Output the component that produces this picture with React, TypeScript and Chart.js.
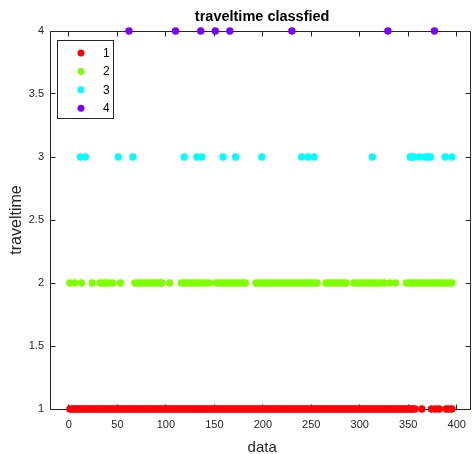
import React, { useEffect, useRef } from "react";
import { Chart, registerables } from "chart.js";

Chart.register(...registerables);

const titleText = "traveltime classfied";
const xLabel = "data";
const yLabel = "traveltime";
const seriesNames = ["1", "2", "3", "4"];
const seriesColors = ["#FF0000", "#80FF00", "#00FFFF", "#8000FF"];
const xTicks = [0, 50, 100, 150, 200, 250, 300, 350, 400];
const yTicks = [1, 1.5, 2, 2.5, 3, 3.5, 4];

// x positions (data index) of the points in each class
const class1 = [
  1, 3, 5, 7, 9, 11, 13, 15, 17, 19, 21, 23, 25, 27, 29, 31, 33, 35, 37, 39,
  41, 43, 45, 47, 49, 51, 53, 55, 57, 59, 61, 63, 65, 67, 69, 71, 73, 75, 77, 79,
  81, 83, 85, 87, 89, 91, 93, 95, 97, 99, 101, 103, 105, 107, 109, 111, 113, 115, 117, 119,
  121, 123, 125, 127, 129, 131, 133, 135, 137, 139, 141, 143, 145, 147, 149, 151, 153, 155, 157, 159,
  161, 163, 165, 167, 169, 171, 173, 175, 177, 179, 181, 183, 185, 187, 189, 191, 193, 195, 197, 199,
  201, 203, 205, 207, 209, 211, 213, 215, 217, 219, 221, 223, 225, 227, 229, 231, 233, 235, 237, 239,
  241, 243, 245, 247, 249, 251, 253, 255, 257, 259, 261, 263, 265, 267, 269, 271, 273, 275, 277, 279,
  281, 283, 285, 287, 289, 291, 293, 295, 297, 299, 301, 303, 305, 307, 309, 311, 313, 315, 317, 319,
  321, 323, 325, 327, 329, 331, 333, 335, 337, 339, 341, 343, 345, 347, 349, 351, 353, 355, 357,
  364, 374, 378, 382, 389, 392, 395,
];
const class2 = [
  1, 6, 13, 24, 32, 35, 38, 41, 45, 53,
  68, 71, 74, 77, 80, 83, 86, 89, 92, 95, 96, 104,
  116, 119, 122, 125, 128, 131, 134, 137, 141, 145,
  152, 155, 158, 161, 164, 167, 170, 173, 176, 179, 182,
  193, 196, 199, 202, 205, 208, 211, 214, 217, 220, 223, 226, 229, 232, 235, 238, 241, 244, 247, 250, 253, 256,
  265, 268, 271, 274, 277, 280, 283, 286,
  294, 297, 300, 303, 306, 309, 312, 315, 318, 321, 325, 331, 337,
  348, 351, 354, 357, 360, 363, 366, 369, 372, 375, 378, 381, 384, 387, 390, 393, 395,
];
const class3 = [
  12, 17, 51, 66, 119, 132, 137, 159, 172, 199, 240, 247, 253, 313,
  352, 354, 356, 362, 368, 370, 373, 388, 395,
];
const class4 = [62, 110, 136, 151, 166, 230, 329, 377];

const classX = [class1, class2, class3, class4];
const classY = [1, 2, 3, 4];

const FONT = "'Liberation Sans', Arial, Helvetica, sans-serif";
const AXIS = "#262626";

const decor = {
  id: "decor",
  beforeDatasetsDraw(chart: any) {
    const { ctx, chartArea, scales } = chart;
    const { left, right, top, bottom } = chartArea;
    const L = Math.floor(left) + 0.5;
    const R = Math.floor(right) + 0.5;
    const T = Math.floor(top) + 0.5;
    const B = Math.floor(bottom) + 0.5;
    ctx.save();
    ctx.strokeStyle = AXIS;
    ctx.lineWidth = 1;
    ctx.beginPath();
    ctx.rect(L, T, R - L, B - T);
    const tl = 5;
    xTicks.forEach((v) => {
      const px = Math.floor(scales.x.getPixelForValue(v)) + 0.5;
      ctx.moveTo(px, B);
      ctx.lineTo(px, B - tl);
      ctx.moveTo(px, T);
      ctx.lineTo(px, T + tl);
    });
    yTicks.forEach((v) => {
      const py = Math.floor(scales.y.getPixelForValue(v)) + 0.5;
      ctx.moveTo(L, py);
      ctx.lineTo(L + tl, py);
      ctx.moveTo(R, py);
      ctx.lineTo(R - tl, py);
    });
    ctx.stroke();
    ctx.restore();
  },
  afterDraw(chart: any) {
    const { ctx, chartArea } = chart;
    const { left, right, top, bottom } = chartArea;
    const cx = (left + right) / 2;
    ctx.save();
    ctx.fillStyle = "#000";
    ctx.textAlign = "center";
    ctx.textBaseline = "alphabetic";
    ctx.font = `bold 14.5px ${FONT}`;
    ctx.fillText(titleText, cx + 2, 21);
    ctx.fillStyle = AXIS;
    ctx.font = `15px ${FONT}`;
    ctx.fillText(xLabel, cx + 2, 452);
    ctx.save();
    ctx.font = `16px ${FONT}`;
    ctx.translate(21, (top + bottom) / 2);
    ctx.rotate(-Math.PI / 2);
    ctx.fillText(yLabel, 0, 0);
    ctx.restore();

    // legend
    const bx = 57.5, by = 40.5, bw = 56, bh = 78;
    ctx.fillStyle = "#fff";
    ctx.fillRect(bx, by, bw, bh);
    ctx.strokeStyle = AXIS;
    ctx.lineWidth = 1;
    ctx.strokeRect(bx, by, bw, bh);
    ctx.font = `12px ${FONT}`;
    ctx.textAlign = "left";
    ctx.textBaseline = "middle";
    seriesNames.forEach((name, i) => {
      const yy = 53 + i * 18.4;
      ctx.fillStyle = seriesColors[i];
      ctx.beginPath();
      ctx.arc(81, yy, 3.5, 0, Math.PI * 2);
      ctx.fill();
      ctx.fillStyle = "#000";
      ctx.fillText(name, 103, yy + 0.5);
    });
    ctx.restore();
  },
};

export default function App() {
  const ref = useRef<HTMLCanvasElement | null>(null);
  useEffect(() => {
    if (!ref.current) return;
    const datasets = classX.map((xs, i) => ({
      label: seriesNames[i],
      data: xs.map((x) => ({ x, y: classY[i] })),
      backgroundColor: seriesColors[i],
      borderColor: seriesColors[i],
      borderWidth: 0,
      pointRadius: 3.7,
      pointHoverRadius: 3.7,
      clip: false as any,
    }));
    const chart = new Chart(ref.current, {
      type: "scatter",
      data: { datasets },
      options: {
        animation: false,
        responsive: false,
        devicePixelRatio: 1,
        events: [],
        layout: { padding: { top: 31, right: 1, left: 0, bottom: 0 } },
        plugins: {
          legend: { display: false },
          title: { display: false },
          tooltip: { enabled: false },
        },
        scales: {
          x: {
            type: "linear",
            min: -19.5,
            max: 414,
            afterBuildTicks: (s: any) => {
              s.ticks = xTicks.map((v) => ({ value: v }));
            },
            afterFit: (s: any) => {
              s.height = 45;
              s.paddingLeft = 0;
              s.paddingRight = 0;
            },
            grid: { display: false, drawTicks: false },
            border: { display: false },
            ticks: {
              autoSkip: false,
              maxRotation: 0,
              padding: 9,
              color: AXIS,
              font: { family: FONT, size: 11 },
              callback: (v: any) => String(v),
            },
          },
          y: {
            type: "linear",
            min: 1,
            max: 4,
            afterBuildTicks: (s: any) => {
              s.ticks = yTicks.map((v) => ({ value: v }));
            },
            afterFit: (s: any) => {
              s.width = 50;
              s.paddingTop = 0;
              s.paddingBottom = 0;
            },
            grid: { display: false, drawTicks: false },
            border: { display: false },
            ticks: {
              autoSkip: false,
              padding: 6,
              color: AXIS,
              font: { family: FONT, size: 11 },
              callback: (v: any) => String(v),
            },
          },
        },
      },
      plugins: [decor],
    });
    return () => chart.destroy();
  }, []);
  return (
    <div style={{ position: "fixed", left: 0, top: 0, width: 474, height: 454, background: "#fff" }}>
      <canvas ref={ref} width={474} height={454} style={{ display: "block" }} />
    </div>
  );
}
